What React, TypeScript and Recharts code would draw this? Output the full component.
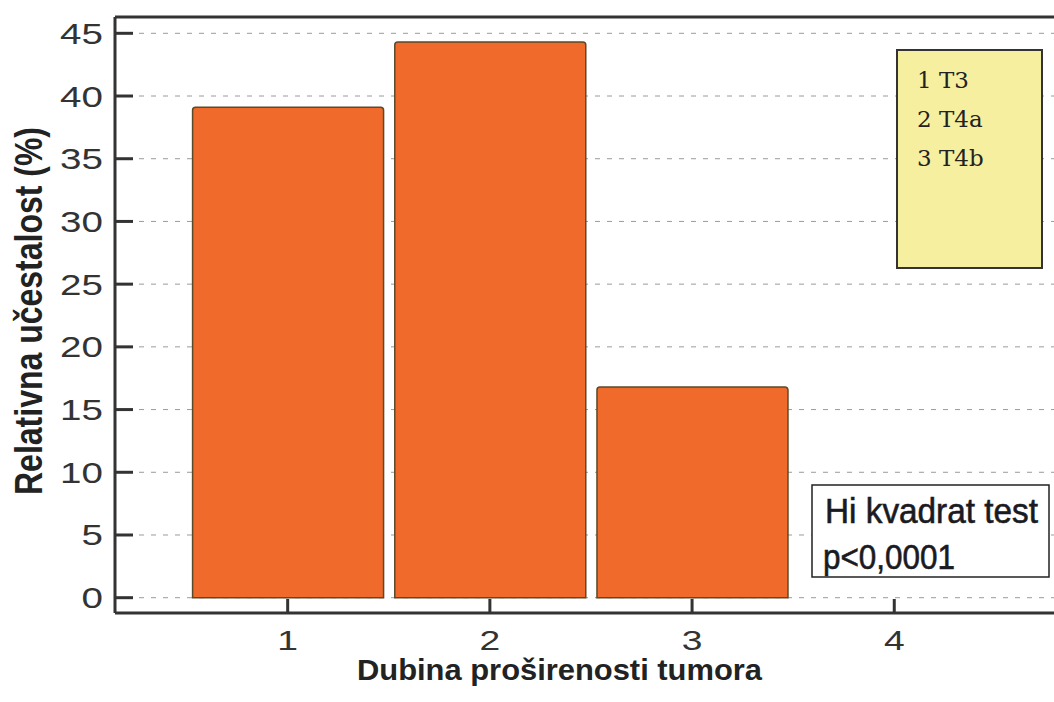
import React from "react";
import {
    BarChart, Bar, XAxis, YAxis, CartesianGrid, ReferenceLine, Label,
} from "recharts";

// dubina prosirenosti tumora (1 = T3, 2 = T4a, 3 = T4b)
const categories = [1, 2, 3];
const relFreq = [39.1, 44.3, 16.8];
const xTicks = [1, 2, 3, 4];
const yTicks = [0, 5, 10, 15, 20, 25, 30, 35, 40, 45];
const legendLines = ["1 T3", "2 T4a", "3 T4b"];
const testLines = ["Hi kvadrat test", "p<0,0001"];

const data = categories.map((c, i) => ({ x: c, value: relFreq[i] }));

const W = 1054;
const H = 702;
const AXIS = "#333";
const SANS = "'Liberation Sans', Arial, sans-serif";

function YTick({ x, y, payload }: any) {
    const ax = x + 12;
    return (
        <g>
            <line x1={ax} x2={ax + 18} y1={y} y2={y} stroke={AXIS} strokeWidth={3} />
            <text
                transform={`translate(${x},${y + 10.5}) scale(1.33,1)`}
                textAnchor="end"
                fontSize={29}
                fontFamily={SANS}
                fill="#333"
            >
                {payload.value}
            </text>
        </g>
    );
}

function XTick({ x, y, payload }: any) {
    return (
        <g>
            <line x1={x} x2={x} y1={y - 14} y2={y} stroke={AXIS} strokeWidth={3} />
            <text
                transform={`translate(${x},${y + 37}) scale(1.33,1)`}
                textAnchor="middle"
                fontSize={28}
                fontFamily={SANS}
                fill="#333"
            >
                {payload.value}
            </text>
        </g>
    );
}

export default function App() {
    return (
        <div style={{ position: "absolute", left: 0, top: 0, width: W, height: H, background: "#fff" }}>
            <BarChart
                width={W}
                height={H}
                data={data}
                margin={{ top: 17, right: 0, left: 0, bottom: 29 }}
            >
                <CartesianGrid
                    vertical={false}
                    stroke="#9a9a9a"
                    strokeDasharray="5 7"
                />
                <XAxis
                    dataKey="x"
                    type="number"
                    domain={[0.146, 4.79]}
                    ticks={xTicks}
                    allowDataOverflow
                    height={60}
                    axisLine={{ stroke: AXIS, strokeWidth: 3 }}
                    tickLine={false}
                    tickSize={0}
                    tickMargin={0}
                    tick={<XTick />}
                    interval={0}
                >
                    <Label
                        content={() => (
                            <text
                                x={559.5}
                                y={680}
                                textAnchor="middle"
                                fontSize={29}
                                fontWeight="bold"
                                fontFamily={SANS}
                                fill="#222"
                                textLength={405}
                                lengthAdjust="spacingAndGlyphs"
                            >
                                Dubina proširenosti tumora
                            </text>
                        )}
                    />
                </XAxis>
                <YAxis
                    type="number"
                    domain={[-1.22, 46.3]}
                    ticks={yTicks}
                    allowDataOverflow
                    width={115}
                    axisLine={{ stroke: AXIS, strokeWidth: 3 }}
                    tickLine={false}
                    tickSize={0}
                    tickMargin={12}
                    tick={<YTick />}
                    interval={0}
                >
                    <Label
                        content={() => (
                            <text
                                transform="translate(42,311) scale(1.27,1) rotate(-90)"
                                textAnchor="middle"
                                fontSize={30}
                                fontWeight="bold"
                                fontFamily={SANS}
                                fill="#222"
                                textLength={368}
                                lengthAdjust="spacingAndGlyphs"
                            >
                                Relativna učestalost  (%)
                            </text>
                        )}
                    />
                </YAxis>
                <ReferenceLine y={46.3} stroke={AXIS} strokeWidth={3} />
                <Bar
                    dataKey="value"
                    barSize={191}
                    fill="#EF6A2B"
                    stroke="#5B4A2A"
                    strokeWidth={1.5}
                    radius={[3, 3, 0, 0]}
                    isAnimationActive={false}
                />
            </BarChart>
            <svg
                width={W}
                height={H}
                style={{ position: "absolute", left: 0, top: 0, pointerEvents: "none" }}
            >
                <rect x={897} y={50} width={145} height={218} fill="#F6EF9F" stroke="#333" strokeWidth={2} />
                {legendLines.map((t, i) => (
                    <text
                        key={t}
                        x={917}
                        y={88 + i * 39}
                        fontSize={23}
                        fontFamily="'DejaVu Serif', serif"
                        fill="#222"
                    >
                        {t}
                    </text>
                ))}
                <rect x={812} y={485} width={237} height={92} fill="#fff" stroke="#222" strokeWidth={1.5} />
                <text
                    x={825}
                    y={523}
                    fontSize={35}
                    fontFamily={SANS}
                    fill="#1a1a22"
                    stroke="#1a1a22"
                    strokeWidth={0.6}
                    textLength={213}
                    lengthAdjust="spacingAndGlyphs"
                >
                    {testLines[0]}
                </text>
                <text
                    x={823}
                    y={569}
                    fontSize={35}
                    fontFamily={SANS}
                    fill="#1a1a22"
                    stroke="#1a1a22"
                    strokeWidth={0.6}
                    textLength={132}
                    lengthAdjust="spacingAndGlyphs"
                >
                    {testLines[1]}
                </text>
            </svg>
        </div>
    );
}
